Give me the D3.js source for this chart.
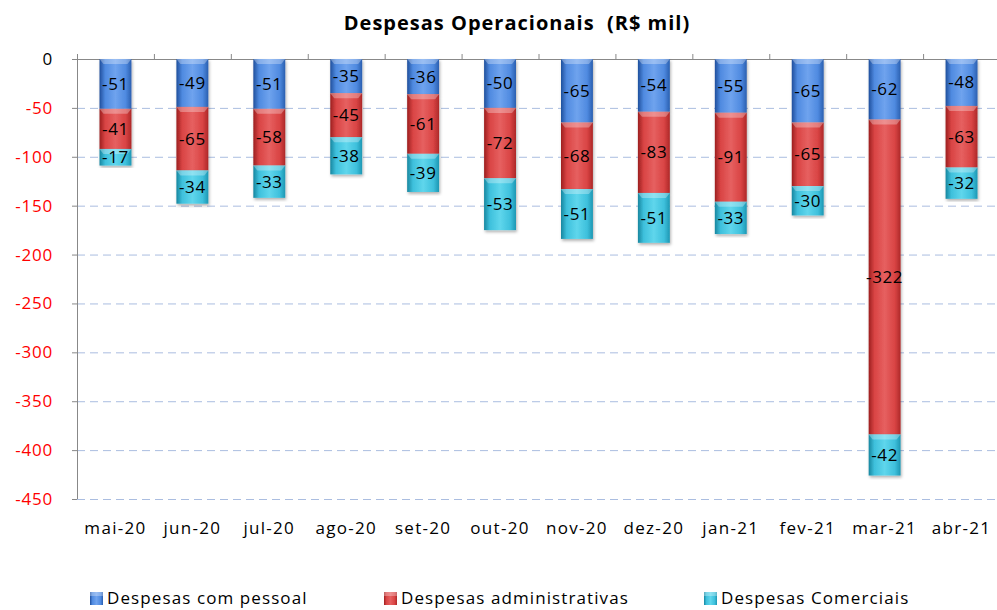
<!DOCTYPE html>
<html>
<head>
<meta charset="utf-8">
<script src="https://cdn.jsdelivr.net/npm/d3@7"></script>
<style>
  body { margin: 0; background: #fff; }
  svg { display: block; font-family: "Open Sans", Lato, sans-serif; }
</style>
</head>
<body>
<svg id="chart" width="997" height="610"></svg>
<script>
// dados (R$ mil)
const months = ['mai-20','jun-20','jul-20','ago-20','set-20','out-20','nov-20','dez-20','jan-21','fev-21','mar-21','abr-21'];
const pessoal = [-51,-49,-51,-35,-36,-50,-65,-54,-55,-65,-62,-48];
const administrativas = [-41,-65,-58,-45,-61,-72,-68,-83,-91,-65,-322,-63];
const comerciais = [-17,-34,-33,-38,-39,-53,-51,-51,-33,-30,-42,-32];
const seriesNames = ['Despesas com pessoal','Despesas administrativas','Despesas Comerciais'];
const yTicks = [0,-50,-100,-150,-200,-250,-300,-350,-400,-450];

const W = 997, H = 610;
const m = { top: 59, left: 77, right: -3, bottom: 111 };
const svg = d3.select('#chart');

const rows = months.map((mo, i) => ({ mo, pessoal: -pessoal[i], admin: -administrativas[i], com: -comerciais[i] }));
const keys = ['pessoal','admin','com'];
const vals = { pessoal, admin: administrativas, com: comerciais };
const stacked = d3.stack().keys(keys)(rows);

const x = d3.scaleBand().domain(months).range([m.left, W - m.right]).paddingInner(0.585).paddingOuter(0.2925);
const y = d3.scaleLinear().domain([0, 450]).range([m.top, H - m.bottom]);

// gradientes
const defs = svg.append('defs');
const cols = {
  pessoal: ['#1f4f9c', '#4f8ae0', '#6fa3ee', '#2a5fb0'],
  admin:   ['#9c1f1f', '#d94444', '#e66060', '#ad2828'],
  com:     ['#17869f', '#3ec0dc', '#5fd6ec', '#1d97b3']
};
keys.forEach(k => {
  const g = defs.append('linearGradient').attr('id', 'g-' + k).attr('x1', 0).attr('x2', 1).attr('y1', 0).attr('y2', 0);
  g.append('stop').attr('offset', '0%').attr('stop-color', cols[k][0]);
  g.append('stop').attr('offset', '18%').attr('stop-color', cols[k][1]);
  g.append('stop').attr('offset', '50%').attr('stop-color', cols[k][2]);
  g.append('stop').attr('offset', '82%').attr('stop-color', cols[k][1]);
  g.append('stop').attr('offset', '100%').attr('stop-color', cols[k][3]);
});
const sh = defs.append('filter').attr('id', 'sh').attr('x', '-20%').attr('y', '-5%').attr('width', '140%').attr('height', '115%');
sh.append('feDropShadow').attr('dx', 1).attr('dy', 2).attr('stdDeviation', 1.5).attr('flood-color', '#000').attr('flood-opacity', 0.3);

// título
svg.append('text').attr('x', 517).attr('y', 30).attr('text-anchor', 'middle')
  .attr('font-size', 20).attr('font-weight', 700).attr('fill', '#000')
  .attr('letter-spacing', 1).attr('xml:space', 'preserve')
  .text('Despesas Operacionais  (R$ mil)');

// grade
svg.append('g').selectAll('line').data(yTicks.filter(t => t !== 0)).join('line')
  .attr('x1', m.left).attr('x2', W).attr('y1', d => y(-d) + 0.5).attr('y2', d => y(-d) + 0.5)
  .attr('stroke', '#aabde0').attr('stroke-width', 1).attr('stroke-dasharray', '8,5');

// eixo y
svg.append('line').attr('x1', m.left + 0.5).attr('x2', m.left + 0.5).attr('y1', m.top).attr('y2', y(450))
  .attr('stroke', '#888');
svg.append('g').selectAll('line').data(yTicks).join('line')
  .attr('x1', m.left - 5).attr('x2', m.left).attr('y1', d => y(-d) + 0.5).attr('y2', d => y(-d) + 0.5)
  .attr('stroke', '#888');
svg.append('g').selectAll('text').data(yTicks).join('text')
  .attr('x', 53).attr('y', d => y(-d) + 6).attr('text-anchor', 'end')
  .attr('font-size', 17).attr('letter-spacing', 0.8)
  .attr('fill', d => d < 0 ? '#ff0000' : '#000').text(d => d);

// eixo x (no topo, em zero)
svg.append('line').attr('x1', m.left).attr('x2', W).attr('y1', m.top + 0.5).attr('y2', m.top + 0.5).attr('stroke', '#888');
const step = x.step();
const x0edge = x(months[0]) - (step - x.bandwidth()) / 2;
svg.append('g').selectAll('line').data(d3.range(months.length + 1)).join('line')
  .attr('x1', i => x0edge + i * step + 0.5).attr('x2', i => x0edge + i * step + 0.5)
  .attr('y1', m.top - 5).attr('y2', m.top).attr('stroke', '#888');
svg.append('g').selectAll('text').data(months).join('text')
  .attr('x', d => x(d) + x.bandwidth() / 2).attr('y', 534).attr('text-anchor', 'middle')
  .attr('font-size', 17).attr('letter-spacing', 1.3).attr('fill', '#000').text(d => d);

// barras
const layer = svg.append('g').selectAll('g').data(stacked).join('g');
layer.selectAll('rect').data(d => d.map(p => ({ key: d.key, p }))).join('rect')
  .attr('x', d => x(d.p.data.mo)).attr('width', x.bandwidth())
  .attr('y', d => y(d.p[0])).attr('height', d => y(d.p[1]) - y(d.p[0]))
  .attr('fill', d => `url(#g-${d.key})`).attr('filter', 'url(#sh)');
// brilho superior
layer.selectAll('path.hl').data(d => d.map(p => ({ key: d.key, p }))).join('path')
  .attr('class', 'hl')
  .attr('d', d => {
    const x0 = x(d.p.data.mo), w = x.bandwidth(), t = y(d.p[0]);
    return `M${x0},${t}h${w}l-4,5h${-(w - 8)}z`;
  })
  .attr('fill', '#fff').attr('opacity', 0.3);

// rótulos
const lbl = svg.append('g');
stacked.forEach(s => {
  s.forEach((p, i) => {
    lbl.append('text')
      .attr('x', x(p.data.mo) + x.bandwidth() / 2)
      .attr('y', (y(p[0]) + y(p[1])) / 2 + 6)
      .attr('text-anchor', 'middle').attr('font-size', 17).attr('letter-spacing', 0.6).attr('fill', '#000')
      .text(vals[s.key][i]);
  });
});

// legenda
const legX = [90, 384, 704];
const leg = svg.append('g').selectAll('g').data(keys).join('g')
  .attr('transform', (d, i) => `translate(${legX[i]},592)`);
leg.append('rect').attr('width', 13).attr('height', 13).attr('fill', d => `url(#g-${d})`);
leg.append('rect').attr('width', 13).attr('height', 4).attr('fill', '#fff').attr('opacity', 0.3);
leg.append('text').attr('x', 17).attr('y', 12).attr('font-size', 17).attr('letter-spacing', 1.1).attr('fill', '#000')
  .text((d, i) => seriesNames[i]);
</script>
</body>
</html>
